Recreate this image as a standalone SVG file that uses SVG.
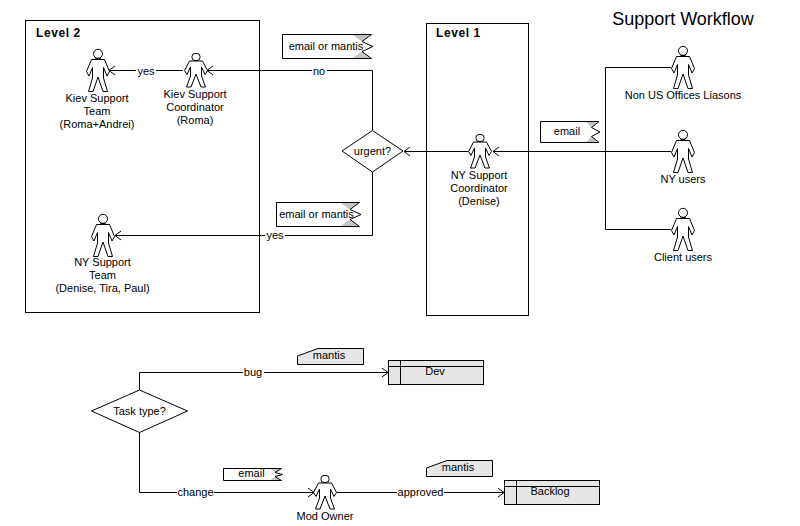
<svg xmlns="http://www.w3.org/2000/svg" xmlns:xlink="http://www.w3.org/1999/xlink" width="800" height="526" viewBox="0 0 800 526">
<style>
text{font-family:"Liberation Sans",Arial,sans-serif;font-size:11px;fill:#000;text-anchor:middle}
.box{fill:#fff;stroke:#000;stroke-width:1}
.line{fill:none;stroke:#000;stroke-width:1}
.thin{fill:none;stroke:#000;stroke-width:1}
.flag{fill:#fff;stroke:#000;stroke-width:1}
.gray{fill:#e6e6e6;stroke:#000;stroke-width:1}
.tri{fill:#c4c4c4;stroke:none}
.hd{font-weight:bold;font-size:12px;text-anchor:start;letter-spacing:.6px}
.bg{fill:#fff;stroke:none}
</style>
<defs>
<marker id="open" markerWidth="8" markerHeight="11" refX="7" refY="5.500" orient="auto" markerUnits="userSpaceOnUse">
<path d="M1 1 L7 5.500 L1 10" fill="none" stroke="#000" stroke-width="1"/>
</marker>
<g id="actor">
<path d="M-6.500 10.500H6.500L11.500 22.500L9 27L5.500 18.500V29L9.500 42.500H5L0 28L-5 42.500H-9.500L-5.500 29V18.500L-9 27L-11.500 22.500Z" fill="#fff" stroke="#000" stroke-width="1"/>
<ellipse cx="0" cy="4.800" rx="4.500" ry="4.500" fill="#fff" stroke="#000"/>
<path d="M-2.500 10H2.500" stroke="#000" stroke-width="2"/>
</g>
<g id="actorS">
<path d="M-6.500 8H6.500L11.500 17.500L9 21.500L5.500 14V23L9.500 34H5L0 21L-5 34H-9.500L-5.500 23V14L-9 21.500L-11.500 17.500Z" fill="#fff" stroke="#000" stroke-width="1"/>
<rect x="-4" y="0.500" width="8" height="7" rx="3" fill="#fff" stroke="#000"/>
</g>
</defs>
<rect width="800" height="526" fill="#fff"/>
<text x="683" y="24.500" style="font-size:18px" id="title">Support Workflow</text>

<g id="level2"><rect class="box" x="25.500" y="20.500" width="234" height="292"/><text class="hd" x="36" y="37">Level 2</text></g>
<g id="level1"><rect class="box" x="426.500" y="23.500" width="102" height="292"/><text class="hd" x="436" y="37">Level 1</text></g>

<g id="flag1"><path class="tri" d="M352 34.500H371.500L362 41.500ZM352 58.500H371.500L362 51.500Z"/><path class="flag" style="fill:none" d="M371.500 34.500H282.500V58.500H371.500L362 51.500L373 46.500L362 41.500Z"/><text x="326" y="50">email or mantis</text></g>
<g id="flag2"><path class="tri" d="M340 202.500H359.500L350 209.500ZM340 226.500H359.500L350 219.500Z"/><path class="flag" style="fill:none" d="M359.500 202.500H276.500V226.500H359.500L350 219.500L361 214.500L350 209.500Z"/><text x="316.500" y="218">email or mantis</text></g>
<g id="flag3"><path class="tri" d="M586 121.500H599L591.500 127.500ZM586 142.500H599L591.500 136.500Z"/><path class="flag" style="fill:none" d="M599 121.500H540.500V142.500H599L591.500 136.500L600 132L591.500 127.500Z"/><text x="567" y="135">email</text></g>
<g id="flag4"><path class="tri" d="M270 468.500H281.500L275 472.500ZM270 480.500H281.500L275 476.500Z"/><path class="flag" style="fill:none" d="M281.500 468.500H223.500V480.500H281.500L275 476.500L282.500 474.500L275 472.500Z"/><text x="251.500" y="477">email</text></g>

<g id="note1"><path class="gray" d="M318 348.500H363.500V364.500H297.500V356Z"/><text x="329" y="359">mantis</text></g>
<g id="note2"><path class="gray" d="M447 460.500H492.500V476.500H426.500V468Z"/><text x="458" y="471">mantis</text></g>

<g id="dev"><rect class="gray" x="388.500" y="360.500" width="95" height="24"/><path class="thin" d="M388.500 366.500H483.500M400.500 360.500V384.500"/><text x="435" y="375">Dev</text></g>
<g id="backlog"><rect class="gray" x="504.500" y="480.500" width="95" height="24"/><path class="thin" d="M504.500 486.500H599.500M516.500 480.500V504.500"/><text x="550" y="495">Backlog</text></g>

<g id="urgent"><path class="box" d="M372.500 130.500L403 151L372.500 172L342 151Z"/><text x="372.500" y="155">urgent?</text></g>
<g id="tasktype"><path class="box" d="M139.500 390L187.500 411L139.500 432.500L91.500 411Z"/><text x="139.500" y="415">Task type?</text></g>

<g id="kiev-team"><use xlink:href="#actor" x="98" y="49"/><text x="97" y="102">Kiev Support</text><text x="97" y="115">Team</text><text x="97" y="128">(Roma+Andrei)</text></g>
<g id="kiev-coord"><use xlink:href="#actorS" x="196" y="53"/><text x="195" y="98">Kiev Support</text><text x="195" y="111">Coordinator</text><text x="195" y="124">(Roma)</text></g>
<g id="ny-team"><use xlink:href="#actor" x="103" y="214"/><text x="102.500" y="266">NY Support</text><text x="102.500" y="279">Team</text><text x="102.500" y="292">(Denise, Tira, Paul)</text></g>
<g id="ny-coord"><use xlink:href="#actorS" x="480" y="134"/><text x="479" y="179">NY Support</text><text x="479" y="192">Coordinator</text><text x="479" y="205">(Denise)</text></g>
<g id="non-us"><use xlink:href="#actor" x="683" y="46"/><text x="683" y="99">Non US Offices Liasons</text></g>
<g id="ny-users"><use xlink:href="#actor" x="683" y="130"/><text x="683" y="183">NY users</text></g>
<g id="client"><use xlink:href="#actor" x="683" y="208"/><text x="683" y="261">Client users</text></g>
<g id="mod-owner"><use xlink:href="#actorS" x="325" y="475"/><text x="325" y="520">Mod Owner</text></g>

<g id="connectors">
<path class="line" d="M183 70.500H109" marker-end="url(#open)"/>
<path class="line" d="M372.500 130.500V70.500H207" marker-end="url(#open)"/>
<path class="line" d="M372.500 172V235.500H115" marker-end="url(#open)"/>
<path class="line" d="M468 151.500H404" marker-end="url(#open)"/>
<path class="line" d="M671 151.500H493" marker-end="url(#open)"/>
<path class="line" d="M671 67.500H605.500V229.500H671"/>
<path class="line" d="M139.500 390V372.500H388" marker-end="url(#open)"/>
<path class="line" d="M139.500 432V492.500H314" marker-end="url(#open)"/>
<path class="line" d="M337 492.500H504" marker-end="url(#open)"/>
<g id="connector-labels">
<rect class="bg" x="136" y="64" width="20" height="13"/><text x="146" y="74.500">yes</text>
<rect class="bg" x="312" y="64" width="15" height="13"/><text x="319" y="74.500">no</text>
<rect class="bg" x="265" y="229" width="20" height="13"/><text x="275" y="238.500">yes</text>
<rect class="bg" x="243" y="366" width="21" height="13"/><text x="253" y="375.500">bug</text>
<rect class="bg" x="177" y="486" width="37" height="13"/><text x="195.500" y="495.500">change</text>
<rect class="bg" x="397" y="486" width="47" height="13"/><text x="420.500" y="495.500">approved</text>
</g>
</g>
</svg>
